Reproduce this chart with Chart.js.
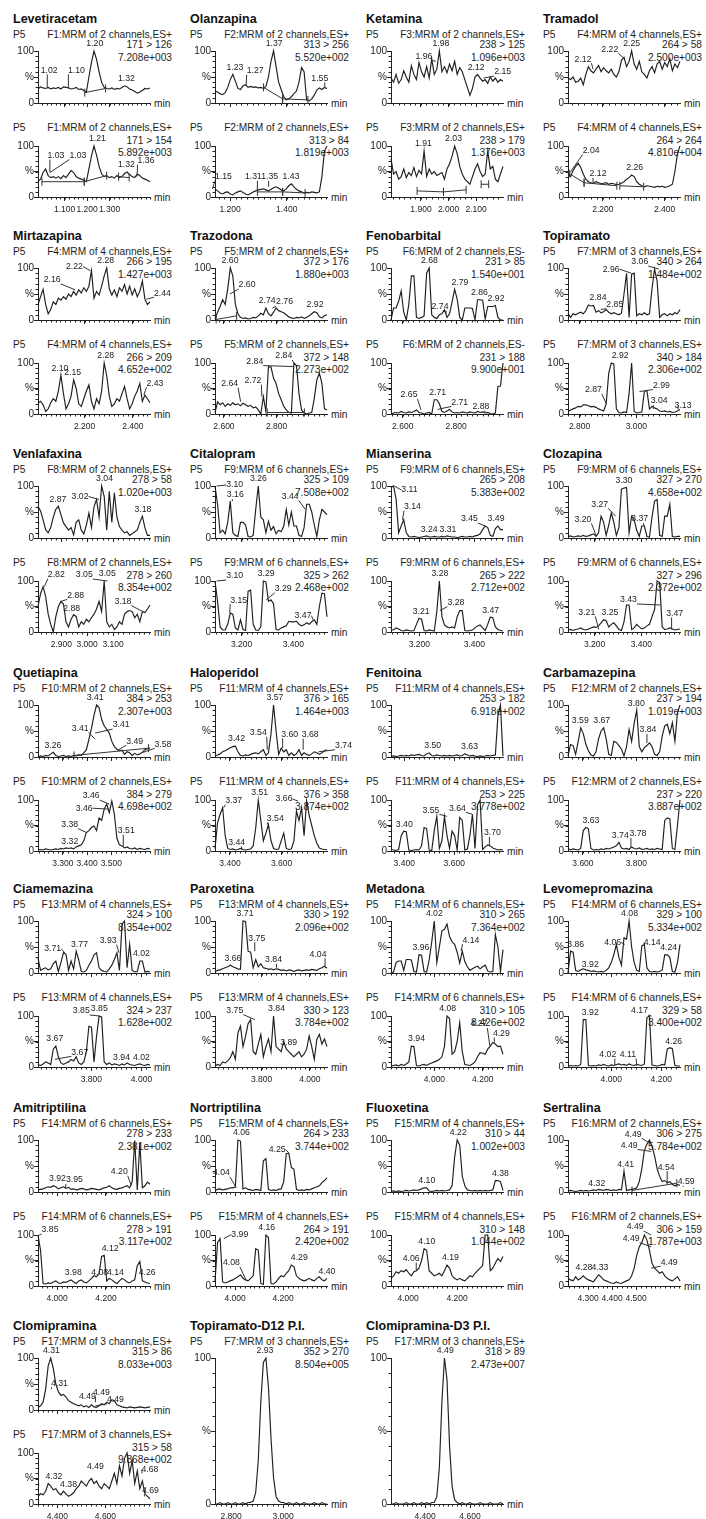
<!DOCTYPE html>
<html>
<head>
<meta charset="utf-8">
<script src="https://cdn.jsdelivr.net/npm/chart.js@4.4.0/dist/chart.umd.min.js"></script>
<style>
  body { margin: 0; width: 706px; height: 1519px; position: relative; overflow: hidden; background: #fff; color: #1e1e1e; }
  .t { position: absolute; white-space: nowrap; line-height: 1; transform: translateY(-50%); }
  .ttl { font: bold 12.5px "Liberation Sans", Arial, sans-serif; color: #111; }
  .hd { font: 10.2px "Liberation Sans", Arial, sans-serif; }
  .r { transform: translate(-100%, -50%); }
  canvas { position: absolute; }
</style>
</head>
<body>
<script>
// ---- traces (% of the largest signal in each window), sampled evenly across the window ----
const levetiracetamA = [27,31,29,28,30, 27,29,28,30,27, 31,30,29,27,28, 30,26,27,24,21, 50,78,100,84,60, 40,30,28,27,29, 26,28,27,30,33, 31,27,25,22,19, 21,24,28,27,29];
const levetiracetamB = [30,35,48,55,42, 38,40,37,40,36, 42,38,45,52,48, 40,37,35,33,30, 55,80,100,82,60, 45,40,42,38,40, 37,42,38,40,46, 49,44,40,38,45, 42,37,35,33,30];
const olanzapinaA = [23,21,18,16,20, 30,45,55,42,28, 26,33,35,30,32, 30,31,29,30,28, 32,50,80,100,70, 40,26,12,6,8, 12,18,23,40,68, 60,6,4,8,15, 25,29,26,30,28];
const olanzapinaB = [16,12,8,6,9, 10,6,4,8,10, 12,9,6,4,7, 10,12,14,15,16, 14,12,15,18,20, 17,14,12,16,22, 26,20,15,12,10, 8,9,8,10,9, 8,10,40,90,100];
const ketaminaA = [48,40,55,38,45, 62,50,40,72,55, 45,78,60,50,70, 48,85,55,65,100, 60,70,58,75,62, 80,55,68,60,45, 30,15,28,50,55, 48,42,45,38,50, 42,48,40,45,42];
const ketaminaB = [75,45,50,35,40, 55,38,48,42,58, 40,52,45,90,40, 55,45,50,42,45, 48,35,55,65,80, 100,85,60,45,35, 30,25,40,55,65, 50,40,45,90,55, 60,35,30,45,60];
const tramadolA = [48,45,50,40,42, 48,35,55,70,62, 58,65,72,60,68, 62,58,65,55,50, 60,82,88,70,80, 100,75,65,80,60, 55,48,62,70,58, 75,80,65,78,70, 85,62,75,68,80];
const tramadolB = [46,40,52,60,66, 58,45,35,30,28, 27,30,28,26,27, 28,25,27,26,24, 25,27,30,35,38, 43,40,30,25,22, 20,22,21,20,19, 21,20,21,19,20, 22,25,50,85,100];
const mirtazapinaA = [29,45,59,30,12, 20,35,30,42,38, 45,40,50,45,55, 48,58,52,62,55, 65,95,42,55,48, 65,85,100,60,48, 58,45,62,55,68, 50,65,48,60,45, 55,75,40,30,35];
const mirtazapinaB = [21,25,18,5,10, 22,30,25,45,76, 40,10,20,35,67, 50,20,15,30,45, 57,25,10,30,20, 45,100,75,35,15, 20,30,25,40,54, 30,10,20,35,45, 60,25,37,30,22];
const trazodonaA = [2,15,26,39,30, 60,100,85,30,12, 5,3,4,2,3, 5,4,8,13,10, 23,12,8,15,23, 18,16,14,10,6, 4,3,5,4,6, 3,5,8,12,16, 14,6,4,8,10];
const trazodonaB = [2,24,18,22,15, 20,17,22,18,20, 16,21,18,15,17, 12,14,8,0,34, 5,93,92,70,60, 40,28,15,8,3, 2,100,95,40,8, 2,0,2,3,30, 67,80,60,10,8];
const fenobarbitalA = [0,23,23,36,56, 15,0,30,85,85, 5,3,5,8,90, 100,10,5,3,10, 12,20,5,12,35, 59,40,5,0,23, 23,23,22,0,39, 39,38,2,26,26, 26,28,5,0,0];
const fenobarbitalB = [0,2,3,2,5, 3,2,4,3,5, 8,3,2,0,2, 3,0,28,28,20, 5,3,6,9,4, 2,3,2,4,3, 2,4,3,2,5, 3,4,2,3,1, 0,2,54,55,100];
const topiramatoA = [13,5,12,10,13, 15,12,18,29,27, 28,15,18,14,16, 20,15,12,14,12, 10,13,50,90,5, 88,90,8,12,10, 14,10,12,60,98, 75,5,10,12,8, 12,10,14,12,20];
const topiramatoB = [5,8,10,12,15, 14,18,18,16,14, 15,13,10,8,6, 20,80,100,98,10, 3,2,4,3,40, 100,5,2,3,4, 44,46,10,15,12, 10,6,5,6,4, 5,3,4,6,9];
const venlafaxinaA = [61,52,35,16,10, 20,40,55,61,45, 29,22,15,20,6, 30,35,15,8,25, 48,20,60,74,40, 100,80,15,90,30, 87,40,22,15,10, 12,5,8,12,15, 30,42,20,5,5];
const venlafaxinaB = [50,75,89,70,35, 15,0,30,50,60, 55,20,10,25,34, 30,10,20,15,25, 20,28,35,45,60, 40,100,20,10,15, 5,10,20,15,35, 40,42,40,28,35, 20,40,38,45,53];
const citalopramA = [100,65,10,15,8, 30,71,10,5,3, 30,30,25,3,2, 5,55,100,40,35, 10,32,15,22,8, 15,12,23,55,25, 50,23,23,5,3, 20,65,65,50,25, 3,35,55,50,45];
const citalopramB = [100,60,10,4,4, 15,37,35,8,4, 24,5,3,80,82, 15,4,3,10,100, 98,60,63,55,5, 4,8,10,12,21, 20,20,21,15,12, 14,18,15,20,24, 15,50,76,75,30];
const mianserinaA = [97,100,75,10,23, 35,10,3,2,3, 2,1,2,3,4, 2,2,3,2,2, 3,2,4,3,2, 2,1,2,3,2, 2,3,2,4,5, 8,16,23,20,5, 3,18,23,16,16];
const mianserinaB = [5,4,8,6,3, 2,4,3,2,3, 15,27,25,3,2, 4,3,2,40,100, 30,14,10,8,10, 8,30,42,42,3, 2,3,4,8,12, 14,8,3,15,29, 28,10,5,3,2];
const clozapinaA = [3,4,2,3,4, 3,5,3,4,6, 8,3,10,42,30, 5,25,48,30,5, 20,94,96,97,10, 42,35,15,3,23, 23,3,2,40,71, 74,5,3,42,42, 65,3,2,3,3];
const clozapinaB = [4,5,3,5,6, 8,5,4,6,8, 10,9,12,18,24, 22,10,15,18,12, 5,3,20,53,53, 5,8,15,10,6, 8,12,15,30,44, 100,97,10,5,6, 8,6,4,5,6];
const quetiapinaA = [0,2,1,3,2, 6,9,3,1,2, 3,1,2,1,3, 2,4,3,8,14, 34,55,80,100,95, 72,60,53,46,30, 20,15,12,13,5, 10,8,3,7,4, 6,9,14,16,17];
const quetiapinaB = [2,3,2,4,3, 2,3,4,3,5, 4,6,5,6,4, 8,10,12,20,36, 40,46,49,40,65, 60,82,92,75,98, 72,25,12,10,6, 8,5,4,6,3, 5,4,3,5,4];
const haloperidolA = [2,4,6,10,12, 15,18,20,21,10, 3,2,4,3,5, 7,8,6,10,14, 3,8,45,100,50, 5,17,10,14,3, 8,3,6,14,3, 8,5,3,6,10, 8,5,8,12,14];
const haloperidolB = [5,55,72,85,30, 5,3,4,2,3, 5,3,2,3,4, 10,45,100,60,20, 35,52,20,5,3, 4,20,35,5,3, 4,20,78,60,85, 30,98,70,50,30, 15,6,4,3,3];
const fenitoinaA = [1,2,1,2,3, 2,3,2,4,3, 4,5,3,2,6, 8,3,2,4,3, 2,3,2,3,2, 3,4,2,3,6, 4,2,3,2,1, 2,1,2,3,2, 3,4,79,100,2];
const fenitoinaB = [3,2,1,3,30, 39,38,2,1,2, 3,2,10,46,44, 2,1,40,68,5, 20,68,30,5,39, 30,2,66,60,2, 4,30,72,5,90, 100,3,8,12,10, 6,4,2,3,2];
const carbamazepinaA = [2,24,22,5,30, 56,45,25,12,4, 2,10,35,50,56, 35,5,3,30,28, 22,15,2,20,53, 30,65,90,20,10, 18,22,27,20,5, 3,10,40,60,63, 45,66,30,85,100];
const carbamazepinaB = [5,2,4,3,2, 5,40,46,44,5, 2,3,2,4,3, 5,4,6,8,10, 17,6,4,5,3, 8,5,4,6,3, 4,5,3,4,3, 5,4,3,60,65, 63,5,3,50,100];
const ciamemazinaA = [29,5,8,10,6, 8,18,23,3,20, 39,36,5,23,8, 42,25,3,2,5, 15,23,35,39,10, 5,3,2,8,15, 26,39,5,94,100, 10,55,5,2,3, 23,23,2,3,2];
const ciamemazinaB = [5,3,6,10,8, 5,35,41,20,8, 5,8,10,15,12, 20,8,5,10,30, 80,78,10,60,100, 98,10,5,8,4, 6,5,3,6,4, 8,5,4,3,5, 6,4,3,5,4];
const paroxetinaA = [3,5,6,8,10, 12,15,12,10,8, 7,100,99,42,40, 10,26,12,18,10, 9,7,8,6,8, 7,5,6,4,6, 5,3,5,6,4, 5,6,5,7,6, 5,8,10,13,9];
const paroxetinaB = [2,5,3,10,8, 12,18,30,15,67, 80,40,60,85,93, 30,25,45,64,20, 40,55,30,100,40, 35,30,50,35,30, 25,20,25,30,20, 25,35,61,40,15, 54,64,45,55,40];
const metadonaA = [0,2,20,23,23, 5,26,26,25,3, 2,35,34,3,2, 25,60,100,20,50, 81,84,94,70,60, 55,40,19,42,22, 12,5,8,11,13, 8,12,15,4,2, 3,74,50,3,45];
const metadonaB = [2,3,4,2,5, 3,6,10,41,40, 3,2,4,5,3, 6,8,10,12,15, 20,40,100,95,25, 30,50,87,30,5, 4,3,6,10,20, 28,27,25,35,41, 48,45,40,41,25];
const levomepromazinaA = [0,42,40,5,3, 6,8,6,5,3, 4,3,2,3,2, 5,10,20,35,55, 30,15,68,65,100, 50,20,5,3,52, 55,10,3,2,3, 2,3,6,35,35, 30,3,2,20,55];
const levomepromazinaB = [2,3,2,3,2, 5,93,93,3,2, 3,2,4,3,5, 3,2,4,3,5, 6,4,5,3,6, 4,3,5,4,3, 6,97,100,4,3, 2,3,5,4,35, 38,36,3,2,2];
const amitriptilinaA = [4,5,6,8,10, 9,12,10,6,8, 10,7,9,5,6, 4,5,7,6,4, 5,7,6,5,4, 6,8,9,12,8, 6,5,7,8,10, 12,8,20,99,4, 95,8,12,19,15];
const amitriptilinaB = [100,70,5,4,6, 5,8,10,6,5, 8,7,10,12,8, 5,10,12,8,6, 10,15,20,18,25, 58,60,10,15,12, 8,5,10,15,12, 8,6,10,12,40, 48,10,8,6,5];
const nortriptilinaA = [3,5,6,4,5, 6,8,8,10,100, 98,6,8,5,4, 3,5,4,3,60, 64,5,3,4,3, 5,6,20,74,74, 47,44,5,3,4, 3,5,4,6,8, 10,12,18,22,27];
const nortriptilinaB = [8,85,93,8,6, 8,10,12,15,18, 22,15,12,10,15, 20,73,70,5,3, 100,95,5,4,8, 15,20,18,25,30, 41,38,20,15,12, 10,12,15,12,10, 15,18,12,10,15];
const fluoxetinaA = [1,2,1,2,1, 2,3,2,3,4, 3,4,6,8,8, 2,1,2,3,2, 3,2,3,4,12, 67,100,90,30,12, 4,3,2,3,2, 3,2,3,2,3, 4,22,22,20,3];
const fluoxetinaB = [15,20,28,25,30, 28,32,25,20,28, 30,35,50,73,70, 30,25,20,22,25, 20,30,41,35,20, 15,12,15,12,10, 15,20,18,25,30, 35,40,100,100,30, 35,45,54,48,58];
const sertralinaA = [2,3,2,1,2, 3,2,3,2,3, 4,3,5,4,3, 5,4,3,4,3, 5,4,40,3,4, 5,6,8,20,45, 80,92,100,88,70, 45,30,20,22,18, 20,15,12,14,13];
const sertralinaB = [15,12,10,18,12, 15,20,15,12,10, 8,15,22,18,12, 10,8,6,5,8, 6,5,8,10,12, 20,35,60,77,85, 100,90,70,45,35, 30,25,28,20,15, 12,10,14,18,10];
const clomipraminaA = [5,8,15,40,85, 100,80,50,35,28, 30,25,18,15,12, 10,8,10,6,8, 5,10,6,5,8, 12,10,15,12,20, 18,10,8,6,5, 4,6,5,4,5, 6,5,4,5,6];
const clomipraminaB = [15,20,18,25,40, 35,28,30,22,18, 25,20,15,18,22, 30,35,45,40,35, 45,50,40,45,35, 30,40,35,30,45, 60,40,75,55,90, 100,60,85,40,65, 30,45,20,15,10];
const topiramatoD12 = [0,0,1,0,0, 1,0,0,1,0, 0,1,0,1,1, 2,8,30,70,97, 100,80,45,18,5, 2,1,1,0,1, 0,0,1,0,0, 1,0,0,0,1, 0,0,1,0,0];
const clomipraminaD3 = [0,0,1,0,0, 0,1,0,0,1, 0,0,1,0,1, 0,1,1,5,25, 70,100,85,40,12, 3,1,0,1,0, 0,1,0,0,0, 1,0,0,0,1, 0,0,0,1,0];

// ---- labelled peaks: [retention time, height %] per window ----
const levetiracetamPeaks = [[[1.02,30],[1.10,30],[1.20,100],[1.32,33]], [[1.03,48],[1.03,48],[1.21,100],[1.32,49],[1.36,40]]];
const olanzapinaPeaks = [[[1.23,55],[1.27,35],[1.37,100],[1.55,28]], [[1.15,16],[1.31,16],[1.35,20],[1.43,26]]];
const ketaminaPeaks = [[[1.96,80],[1.98,100],[2.12,55],[2.15,48]], [[1.91,90],[2.03,100]]];
const tramadolPeaks = [[[2.12,65],[2.22,88],[2.25,100]], [[2.04,46],[2.12,28],[2.26,43]]];
const mirtazapinaPeaks = [[[2.16,58],[2.22,95],[2.28,100],[2.44,40]], [[2.10,76],[2.15,67],[2.28,100],[2.43,37]]];
const trazodonaPeaks = [[[2.60,100],[2.60,50],[2.74,23],[2.76,23],[2.92,16]], [[2.64,24],[2.72,34],[2.84,93],[2.84,100]]];
const fenobarbitalPeaks = [[[2.68,100],[2.74,12],[2.79,59],[2.86,39],[2.92,28]], [[2.65,8],[2.71,28],[2.71,9],[2.88,3]]];
const topiramatoPeaks = [[[2.84,29],[2.85,20],[2.96,90],[3.06,98]], [[2.87,20],[2.92,100],[2.99,44],[3.04,10],[3.13,9]]];
const venlafaxinaPeaks = [[[2.87,61],[3.02,74],[3.04,100],[3.18,42]], [[2.82,89],[3.05,100],[3.05,100],[2.88,60],[2.88,60],[3.18,40]]];
const citalopramPeaks = [[[3.10,100],[3.16,71],[3.26,100],[3.44,55]], [[3.10,100],[3.15,37],[3.29,100],[3.29,63],[3.47,24]]];
const mianserinaPeaks = [[[3.11,100],[3.14,35],[3.24,3],[3.31,3],[3.45,23],[3.49,23]], [[3.21,27],[3.28,100],[3.28,42],[3.47,29]]];
const clozapinaPeaks = [[[3.20,5],[3.27,42],[3.30,96],[3.37,23]], [[3.21,5],[3.25,24],[3.43,53],[3.47,5]]];
const quetiapinaPeaks = [[[3.26,9],[3.41,34],[3.41,100],[3.41,46],[3.49,13],[3.58,9]], [[3.46,92],[3.46,82],[3.38,36],[3.32,5],[3.51,8]]];
const haloperidolPeaks = [[[3.42,21],[3.54,14],[3.57,100],[3.60,17],[3.68,14],[3.74,10]], [[3.37,85],[3.51,100],[3.54,52],[3.44,3],[3.66,98]]];
const fenitoinaPeaks = [[[3.50,8],[3.63,6]], [[3.40,39],[3.55,68],[3.64,72],[3.70,10]]];
const carbamazepinaPeaks = [[[3.59,56],[3.67,56],[3.80,90],[3.84,27]], [[3.63,46],[3.74,17],[3.78,6]]];
const ciamemazinaPeaks = [[[3.71,39],[3.77,42],[3.93,39],[4.02,23]], [[3.85,100],[3.85,100],[3.67,41],[3.67,15],[3.94,5],[4.02,5]]];
const paroxetinaPeaks = [[[3.66,15],[3.71,100],[3.75,42],[3.84,10],[4.04,13]], [[3.75,93],[3.84,100],[3.89,35]]];
const metadonaPeaks = [[[3.96,35],[4.02,100],[4.14,42]], [[3.94,41],[4.08,100],[4.27,41],[4.29,48]]];
const levomepromazinaPeaks = [[[3.86,42],[3.92,3],[4.06,55],[4.08,100],[4.14,55],[4.24,35]], [[3.92,93],[4.02,3],[4.11,3],[4.17,100],[4.26,36]]];
const amitriptilinaPeaks = [[[3.92,12],[3.95,8],[4.20,12]], [[3.85,100],[3.98,12],[4.08,12],[4.12,60],[4.14,12],[4.26,12]]];
const nortriptilinaPeaks = [[[4.04,8],[4.06,100],[4.25,74]], [[3.99,93],[4.16,100],[4.08,10],[4.29,41],[4.40,15]]];
const fluoxetinaPeaks = [[[4.10,8],[4.22,100],[4.38,22]], [[4.06,30],[4.10,73],[4.19,41]]];
const sertralinaPeaks = [[[4.32,3],[4.41,40],[4.49,78],[4.49,92],[4.54,15],[4.59,10]], [[4.28,22],[4.33,22],[4.49,77],[4.49,100],[4.49,35]]];
const clomipraminaPeaks = [[[4.31,100],[4.31,40],[4.49,15],[4.49,18],[4.49,8]], [[4.32,40],[4.38,25],[4.49,60],[4.68,60],[4.69,15]]];
const topiramatoD12Peaks = [[[2.93,100]]];
const clomipraminaD3Peaks = [[[4.49,100]]];

// ---- integration baselines: [t1, %1, t2, %2] ----
const levetiracetamBase = [[[1.162,20,1.241,28]], [[1.0,30,1.16,30],[1.16,30,1.245,42],[1.29,40,1.33,38]]];
const olanzapinaBase = [[[1.332,30,1.40,8],[1.40,8,1.49,6]], [[1.31,10,1.40,10],[1.40,10,1.48,8]]];
const ketaminaBase = [[], [[1.885,12,1.99,10],[1.99,10,2.08,14],[2.14,25,2.17,25]]];
const tramadolBase = [[], [[2.04,46,2.09,28],[2.09,28,2.20,22],[2.21,22,2.29,20]]];
const trazodonaBase = [[[2.548,1,2.625,8]], [[2.74,3,2.88,3]]];
const quetiapinaBase = [[[3.335,3,3.60,17]], []];
const sertralinaBase = [[[4.43,3,4.57,17]], []];

// ---- windows ----
const names = ['Levetiracetam','Olanzapina','Ketamina','Tramadol','Mirtazapina','Trazodona','Fenobarbital','Topiramato',
  'Venlafaxina','Citalopram','Mianserina','Clozapina','Quetiapina','Haloperidol','Fenitoina','Carbamazepina',
  'Ciamemazina','Paroxetina','Metadona','Levomepromazina','Amitriptilina','Nortriptilina','Fluoxetina','Sertralina',
  'Clomipramina','Topiramato-D12 P.I.','Clomipramina-D3 P.I.'];
const functions = ['F1:MRM of 2 channels,ES+','F2:MRM of 2 channels,ES+','F3:MRM of 2 channels,ES+','F4:MRM of 4 channels,ES+',
  'F4:MRM of 4 channels,ES+','F5:MRM of 2 channels,ES+','F6:MRM of 2 channels,ES-','F7:MRM of 3 channels,ES+',
  'F8:MRM of 2 channels,ES+','F9:MRM of 6 channels,ES+','F9:MRM of 6 channels,ES+','F9:MRM of 6 channels,ES+',
  'F10:MRM of 2 channels,ES+','F11:MRM of 4 channels,ES+','F11:MRM of 4 channels,ES+','F12:MRM of 2 channels,ES+',
  'F13:MRM of 4 channels,ES+','F13:MRM of 4 channels,ES+','F14:MRM of 6 channels,ES+','F14:MRM of 6 channels,ES+',
  'F14:MRM of 6 channels,ES+','F15:MRM of 4 channels,ES+','F15:MRM of 4 channels,ES+','F16:MRM of 2 channels,ES+',
  'F17:MRM of 3 channels,ES+','F7:MRM of 3 channels,ES+','F17:MRM of 3 channels,ES+'];
const ions = [['171 > 126','171 > 154'],['313 > 256','313 > 84'],['238 > 125','238 > 179'],['264 > 58','264 > 264'],
  ['266 > 195','266 > 209'],['372 > 176','372 > 148'],['231 > 85','231 > 188'],['340 > 264','340 > 184'],
  ['278 > 58','278 > 260'],['325 > 109','325 > 262'],['265 > 208','265 > 222'],['327 > 270','327 > 296'],
  ['384 > 253','384 > 279'],['376 > 165','376 > 358'],['253 > 182','253 > 225'],['237 > 194','237 > 220'],
  ['324 > 100','324 > 237'],['330 > 192','330 > 123'],['310 > 265','310 > 105'],['329 > 100','329 > 58'],
  ['278 > 233','278 > 191'],['264 > 233','264 > 191'],['310 > 44','310 > 148'],['306 > 275','306 > 159'],
  ['315 > 86','315 > 58'],['352 > 270'],['318 > 89']];
const intensities = [['7.208e+003','5.892e+003'],['5.520e+002','1.819e+003'],['1.096e+003','1.376e+003'],['2.500e+003','4.810e+004'],
  ['1.427e+003','4.652e+002'],['1.880e+003','2.273e+002'],['1.540e+001','9.900e+001'],['1.484e+002','2.306e+002'],
  ['1.020e+003','8.354e+002'],['7.508e+002','2.468e+002'],['5.383e+002','2.712e+002'],['4.658e+002','2.372e+002'],
  ['2.307e+003','4.698e+002'],['1.464e+003','3.874e+002'],['6.918e+002','3.778e+002'],['1.019e+003','3.887e+002'],
  ['8.354e+002','1.628e+002'],['2.096e+002','3.784e+002'],['7.364e+002','8.426e+002'],['5.334e+002','3.400e+002'],
  ['2.381e+002','3.117e+002'],['3.744e+002','2.420e+002'],['1.002e+003','1.044e+002'],['5.784e+002','1.787e+003'],
  ['8.033e+003','9.868e+002'],['8.504e+005'],['2.473e+007']];
const rtRanges = [[0.985,1.409],[1.159,1.558],[1.781,2.227],[2.036,2.412],[2.014,2.454],[2.5435,2.965],[2.542,2.945],[2.731,3.137],
  [2.797,3.206],[3.0935,3.5235],[3.097,3.516],[3.10,3.50],[3.207,3.605],[3.336,3.773],[3.353,3.748],[3.544,3.964],
  [3.602,4.055],[3.586,4.048],[3.825,4.329],[3.829,4.286],[3.846,4.271],[3.955,4.40],[3.964,4.39],[4.23,4.58],
  [4.255,4.713],[2.738,3.169],[4.248,4.747]];
const axisRanges = [[0.982,1.48],[1.147,1.542],[1.791,2.198],[2.087,2.45],[2.007,2.471],[2.566,2.991],[2.556,2.976],[2.759,3.154],
  [2.81,3.243],[3.097,3.53],[3.097,3.504],[3.086,3.566],[3.197,3.66],[3.342,3.776],[3.347,3.795],[3.544,3.964],
  [3.587,4.034],[3.607,4.071],[3.82,4.284],[3.827,4.275],[3.922,4.38],[3.916,4.383],[3.93,4.388],[4.216,4.683],
  [4.32,4.785],[2.738,3.169],[4.248,4.747]];
// labelled time ticks on each window's axis
const tickValues = [[1.1,1.2,1.3],[1.2,1.4],[1.9,2.0,2.1],[2.2,2.4], [2.2,2.4],[2.6,2.8],[2.6,2.8],[2.8,3.0],
  [2.9,3.0,3.1],[3.2,3.4],[3.2,3.4],[3.2,3.4], [3.3,3.4,3.5],[3.4,3.6],[3.4,3.6],[3.6,3.8],
  [3.8,4.0],[3.8,4.0],[4.0,4.2],[4.0,4.2], [4.0,4.2],[4.0,4.2],[4.0,4.2],[4.3,4.4,4.5],
  [4.4,4.6],[2.8,3.0],[4.4,4.6]];

const traces = [[levetiracetamA,levetiracetamB],[olanzapinaA,olanzapinaB],[ketaminaA,ketaminaB],[tramadolA,tramadolB],
  [mirtazapinaA,mirtazapinaB],[trazodonaA,trazodonaB],[fenobarbitalA,fenobarbitalB],[topiramatoA,topiramatoB],
  [venlafaxinaA,venlafaxinaB],[citalopramA,citalopramB],[mianserinaA,mianserinaB],[clozapinaA,clozapinaB],
  [quetiapinaA,quetiapinaB],[haloperidolA,haloperidolB],[fenitoinaA,fenitoinaB],[carbamazepinaA,carbamazepinaB],
  [ciamemazinaA,ciamemazinaB],[paroxetinaA,paroxetinaB],[metadonaA,metadonaB],[levomepromazinaA,levomepromazinaB],
  [amitriptilinaA,amitriptilinaB],[nortriptilinaA,nortriptilinaB],[fluoxetinaA,fluoxetinaB],[sertralinaA,sertralinaB],
  [clomipraminaA,clomipraminaB],[topiramatoD12],[clomipraminaD3]];
const peaks = [levetiracetamPeaks,olanzapinaPeaks,ketaminaPeaks,tramadolPeaks,mirtazapinaPeaks,trazodonaPeaks,fenobarbitalPeaks,
  topiramatoPeaks,venlafaxinaPeaks,citalopramPeaks,mianserinaPeaks,clozapinaPeaks,quetiapinaPeaks,haloperidolPeaks,
  fenitoinaPeaks,carbamazepinaPeaks,ciamemazinaPeaks,paroxetinaPeaks,metadonaPeaks,levomepromazinaPeaks,amitriptilinaPeaks,
  nortriptilinaPeaks,fluoxetinaPeaks,sertralinaPeaks,clomipraminaPeaks,topiramatoD12Peaks,clomipraminaD3Peaks];
const baselines = {0: levetiracetamBase, 1: olanzapinaBase, 2: ketaminaBase, 3: tramadolBase, 5: trazodonaBase,
  12: quetiapinaBase, 23: sertralinaBase};

// label offsets in px from the peak (0 = straight above); same order as the peak lists
const labelShifts = [
  [[[2,-17],[8,-17],0,0], [[6,-17],[28,-17],0,0,[9,-16]]],
  [[0,[9,-14],0,[-5,-10]], [[11,-12],[-4,-12],[1,-10],0]],
  [[[-12,-5],0,0,[19,-6]], [0,0]],
  [[[-10,-10],[-13,-8],0], [[22,-23],[5,-9],0]],
  [[[-23,-10],[-16,-4],0,[16,-6]], [0,0,0,[11,-12]]],
  [[0,[17,-9],0,[12,-6],0], [[-11,-18],[-9,-16],[-39,-5],[-10,-7]]],
  [[0,[-6,-7],0,0,0], [[-12,-15],0,[22,-7],[-4,-6]]],
  [[0,[14,-5],[-20,-4],[-19,-7]], [[-13,-14],0,[22,-6],[6,-8],[5,-4]]],
  [[0,[-19,-3],0,0], [[12,-12],[-23,-6],0,[15,-6],[11,7],[-20,-10]]],
  [[[18,-1],[3,-6],0,[-15,-13]], [[18,-5],[9,-13],0,[17,-11],[-10,-4]]],
  [[[15,4],[10,-13],0,0,[-16,-7],0], [0,0,[16,-8],0]],
  [[[-13,-16],[-16,-12],0,[-4,-7]], [[-12,-17],0,[-32,-5],[3,-16]]],
  [[0,[-15,-11],0,[26,-8],[17,-9],[20,-8]], [[-18,-8],[-25,-1],[-17,-8],0,[3,-16]]],
  [[0,[-9,-17],0,[7,-14],[7,-15],[25,-6]], [[10,-7],0,[8,-6],[-5,-7],[-14,-2]]],
  [[0,0], [0,[-16,-6],[-15,-6],[3,-13]]],
  [[0,0,0,[1,-13]], [0,0,[7,-14]]],
  [[[-12,-4],0,[-11,-12],0], [[-18,-5],0,0,[25,-7],0,0]],
  [[0,0,[2,-13],[-3,-8],[-7,-12]], [[-20,-9],0,0]],
  [[0,0,[10,-11]], [0,0,[-11,-22],[7,-9]]],
  [[0,0,[-12,-2],0,[8,-2],0], [0,[-7,-11],[-9,-11],[-12,-5],0]],
  [[0,[9,-8],[-12,-14]], [[11,-5],0,0,0,0,0]],
  [[[-15,-15],0,[-12,-4]], [[16,-4],0,[-15,-18],0,0]],
  [[0,0,0], [[-5,-12],0,0]],
  [[0,0,[-22,-6],[-18,-10],[-1,-17],[3,-5]], [0,0,[-20,-8],[-16,-8],[18,-6]]],
  [[0,[8,-6],[-8,-6],[6,-8],[20,-6]], [0,0,0,[8,-4],[6,-6]]],
  [[0]],
  [[0]]
];

// ---- page geometry ----
const COL_X = [13, 190, 366, 543];
const ROW_T = [19, 236, 454, 673, 889, 1108, 1326];
const PLOT_W = 112, Y_W = 26, PAD_T = 18, PAD_R = 26;
const UPPER = {head: 15, ion: 25, inten: 38, top: 32, base: 84, ticks: false};
const LOWER = {head: 108, ion: 121, inten: 133, top: 127, base: 178, ticks: true};
const TALL = {head: 15, ion: 25, inten: 38, top: 32, base: 178, ticks: true};
const INK = '#222';
const FONT = '"Liberation Sans", Arial, sans-serif';

function text(x, y, s, cls) {
  const d = document.createElement('div');
  d.className = 't ' + cls;
  d.style.left = x + 'px';
  d.style.top = y + 'px';
  d.textContent = s;
  document.body.appendChild(d);
}

// minor ticks, baselines and retention-time labels
function drawExtras(chart, cfg) {
  const {ctx, chartArea: a} = chart;
  const xs = chart.scales.x, ys = chart.scales.y, rt = chart.scales.rt;
  ctx.save();
  ctx.strokeStyle = INK;
  ctx.lineWidth = 1;
  ctx.beginPath();
  for (let n = Math.ceil(xs.min / 0.02); n * 0.02 <= xs.max; n++) {
    const px = Math.round(xs.getPixelForValue(n * 0.02)) + 0.5;
    ctx.moveTo(px, a.bottom);
    ctx.lineTo(px, a.bottom + 2.5);
  }
  for (let v = 10; v < 100; v += 10) {
    const py = Math.round(ys.getPixelForValue(v)) + 0.5;
    ctx.moveTo(a.left - 2.5, py);
    ctx.lineTo(a.left, py);
  }
  ctx.stroke();

  ctx.strokeStyle = '#333';
  cfg.bases.forEach(([t1, h1, t2, h2]) => {
    const x1 = rt.getPixelForValue(t1), y1 = ys.getPixelForValue(h1);
    const x2 = rt.getPixelForValue(t2), y2 = ys.getPixelForValue(h2);
    ctx.beginPath();
    ctx.moveTo(x1, y1); ctx.lineTo(x2, y2);
    ctx.moveTo(x1, y1 - 4); ctx.lineTo(x1, y1 + 4);
    ctx.moveTo(x2, y2 - 4); ctx.lineTo(x2, y2 + 4);
    ctx.stroke();
  });

  ctx.font = '8.7px ' + FONT;
  ctx.fillStyle = INK;
  ctx.textAlign = 'center';
  ctx.textBaseline = 'middle';
  cfg.peaks.forEach(([t, h], i) => {
    const s = cfg.shifts[i] || [0, -7];
    const ax = rt.getPixelForValue(t), ay = ys.getPixelForValue(h);
    const tx = ax + s[0], ty = ay + s[1];
    const label = t.toFixed(2);
    if (cfg.shifts[i]) {
      const w = ctx.measureText(label).width;
      const lx = Math.max(tx - w / 2, Math.min(ax, tx + w / 2));
      const ly = ay > ty + 4 ? ty + 4 : (ay < ty - 4 ? ty - 4 : ty);
      ctx.beginPath();
      ctx.moveTo(lx, ly);
      ctx.lineTo(ax, ay);
      ctx.stroke();
    }
    ctx.fillText(label, tx, ty);
  });
  ctx.restore();
}

function drawPanel(k, p, g, cx, T) {
  const tr = traces[k][p];
  const [r0, r1] = rtRanges[k];
  const axisX = cx + 25;
  const y100 = T + g.top, y0 = T + g.base;
  const axH = g.ticks ? 17 : 6;
  const w = Y_W + PLOT_W + PAD_R, h = PAD_T + (y0 - y100) + axH;

  text(cx, T + g.head, 'P5', 'hd');
  text(cx + 159, T + g.head, functions[k], 'hd r');
  text(cx + 159, T + g.ion, ions[k][p], 'hd r');
  text(cx + 159, T + g.inten, intensities[k][p], 'hd r');
  text(axisX + 116, y0, 'min', 'hd');

  const cv = document.createElement('canvas');
  cv.width = w; cv.height = h;
  cv.style.left = (axisX - Y_W) + 'px';
  cv.style.top = (y100 - PAD_T) + 'px';
  document.body.appendChild(cv);

  const pts = tr.map((v, i) => ({x: r0 + (r1 - r0) * i / (tr.length - 1), y: v}));
  const cfg = {
    peaks: peaks[k][p],
    shifts: labelShifts[k][p],
    bases: (baselines[k] || [[], []])[p] || []
  };

  new Chart(cv, {
    type: 'line',
    data: {datasets: [{data: pts, xAxisID: 'rt', yAxisID: 'y', borderColor: '#1f1f1f', borderWidth: 1.15,
      pointRadius: 0, tension: 0, clip: 6}]},
    options: {
      responsive: false, animation: false, devicePixelRatio: 1,
      layout: {padding: {top: PAD_T, right: PAD_R, left: 0, bottom: 0}},
      plugins: {legend: {display: false}, tooltip: {enabled: false}},
      events: [],
      scales: {
        x: {
          type: 'linear', position: 'bottom', min: axisRanges[k][0], max: axisRanges[k][1],
          afterBuildTicks(s) { s.ticks = tickValues[k].map(v => ({value: v})); },
          afterFit(s) { s.height = axH; s.paddingLeft = 0; s.paddingRight = 0; },
          ticks: {display: g.ticks, autoSkip: false, maxRotation: 0, minRotation: 0, padding: 4, color: INK,
            font: {family: FONT, size: 8.5}, callback: v => v.toFixed(3)},
          grid: {drawOnChartArea: false, tickLength: 4, color: INK, tickColor: INK},
          border: {color: INK, width: 1}
        },
        rt: {type: 'linear', axis: 'x', position: 'bottom', display: false, min: r0, max: r1},
        y: {
          min: 0, max: 100,
          afterFit(s) { s.width = Y_W; s.paddingTop = 0; s.paddingBottom = 0; },
          ticks: {stepSize: 50, padding: 0, color: INK, font: {family: FONT, size: 10},
            callback: v => (v === 100 ? '100' : v === 50 ? '%' : '0')},
          grid: {drawOnChartArea: false, tickLength: 4, color: INK, tickColor: INK},
          border: {color: INK, width: 1}
        }
      }
    },
    plugins: [{id: 'extras', afterDatasetsDraw(chart) { drawExtras(chart, cfg); }}]
  });
}

names.forEach((name, k) => {
  const cx = COL_X[k % 4], T = ROW_T[Math.floor(k / 4)];
  text(cx, T, name, 'ttl');
  if (traces[k].length === 1) {
    drawPanel(k, 0, TALL, cx, T);
  } else {
    drawPanel(k, 0, UPPER, cx, T);
    drawPanel(k, 1, LOWER, cx, T);
  }
});
</script>
</body>
</html>
